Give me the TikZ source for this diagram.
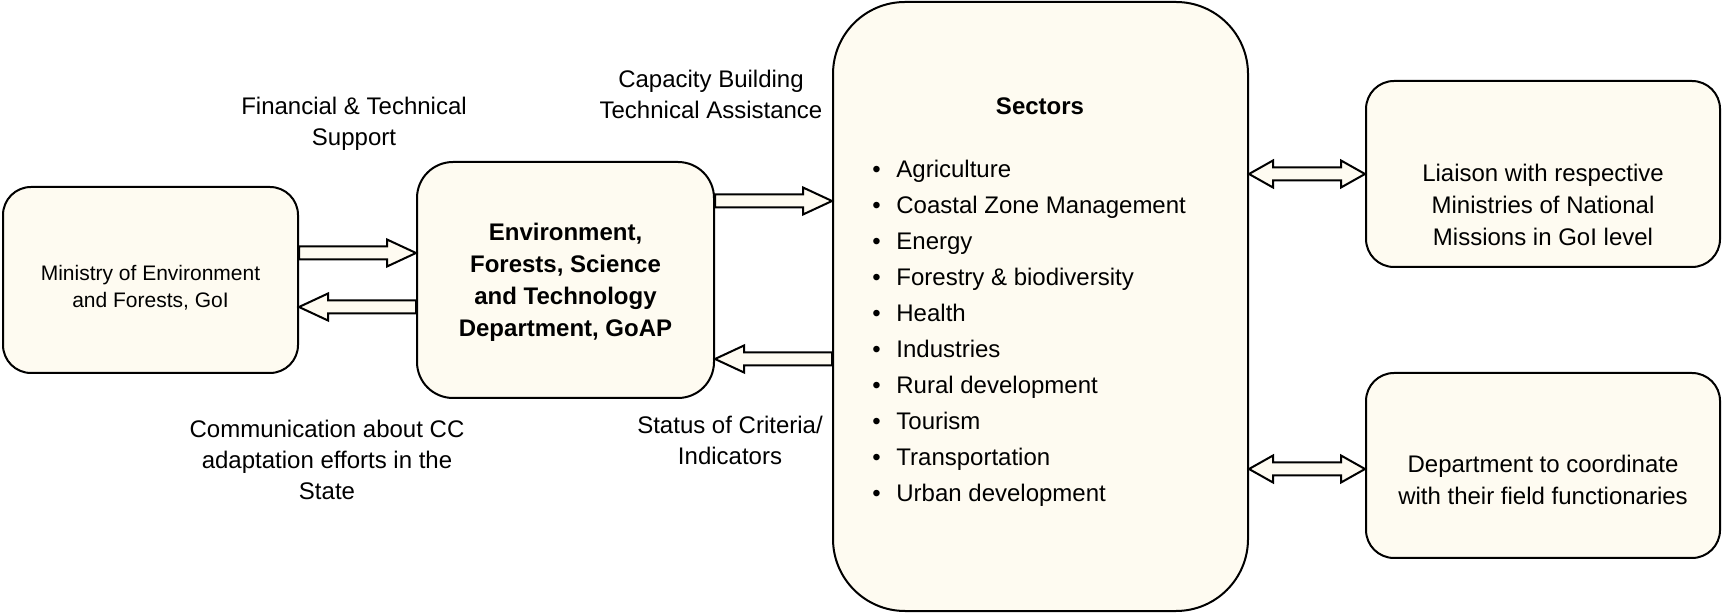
\documentclass[tikz,border=0pt]{standalone}
\usepackage{fontspec}
\setmainfont{Liberation Sans}
\usetikzlibrary{calc}
\definecolor{cream}{RGB}{254,251,241}

% block arrow, tail -> tip
\newcommand{\flowarrow}[2]{%
  \coordinate (fh) at ($(#2)!14.5pt!(#1)$);
  \draw[flow] ($(#1)+(0,3.25pt)$) -- ($(fh)+(0,3.25pt)$) -- ($(fh)+(0,6.75pt)$)
    -- (#2) -- ($(fh)+(0,-6.75pt)$) -- ($(fh)+(0,-3.25pt)$)
    -- ($(#1)+(0,-3.25pt)$) -- cycle;}
% block arrow with two heads
\newcommand{\dualarrow}[2]{%
  \coordinate (da) at ($(#1)!12pt!(#2)$);
  \coordinate (db) at ($(#2)!12pt!(#1)$);
  \draw[flow] (#1) -- ($(da)+(0,6.75pt)$) -- ($(da)+(0,3.25pt)$) -- ($(db)+(0,3.25pt)$)
    -- ($(db)+(0,6.75pt)$) -- (#2) -- ($(db)+(0,-6.75pt)$) -- ($(db)+(0,-3.25pt)$)
    -- ($(da)+(0,-3.25pt)$) -- ($(da)+(0,-6.75pt)$) -- cycle;}

\begin{document}
\begin{tikzpicture}[x=0.5pt, y=-0.5pt,
    box/.style={draw, line width=1pt, fill=cream, inner sep=0pt},
    flow/.style={draw, line width=1pt, fill=cream, line join=miter},
    note/.style={align=center, font=\fontsize{12}{15.5}\selectfont},
    inbox/.style={align=center, font=\fontsize{12}{16}\selectfont},
    item/.style={anchor=base west, inner sep=0pt, font=\fontsize{12}{14}\selectfont}]
\useasboundingbox (0,0) rectangle (1722,613);

\node[box, rounded corners=14pt, minimum width=147.5pt, minimum height=93pt] (mofe) at (150.5,280) {};
\node[box, rounded corners=18pt, minimum width=148.5pt, minimum height=118pt] (efst) at (565.5,280) {};
\node[box, rounded corners=36pt, minimum width=207.5pt, minimum height=304.5pt] (sectors) at (1040.5,306.5) {};
\node[box, rounded corners=14pt, minimum width=177pt, minimum height=93pt] (liaison) at (1543,174) {};
\node[box, rounded corners=14pt, minimum width=177pt, minimum height=92.5pt] (dept) at (1543,465.5) {};

\node[inbox, font=\fontsize{10.5}{13.5}\selectfont] (mofetxt) at (150.5,288) {Ministry of Environment\\and Forests, GoI};
\node[inbox, font=\bfseries\fontsize{12}{16}\selectfont] (efsttxt) at (565.5,282)
    {Environment,\\Forests, Science\\and Technology\\Department, GoAP};
\node[inbox, font=\bfseries\fontsize{12}{16}\selectfont] (sectitle) at (1040,106) {Sectors};
\foreach \i/\sector in {0/Agriculture, 1/Coastal Zone Management, 2/Energy,
    3/Forestry \& biodiversity, 4/Health, 5/Industries, 6/Rural development,
    7/Tourism, 8/Transportation, 9/Urban development}{
    \node[item] (sec\i) at (872,177.5+36*\i) {\textbullet\hspace{7.8pt}\sector};
}
\node[inbox] (liaisontxt) at (1543,205) {Liaison with respective\\Ministries of National\\Missions in GoI level};
\node[inbox] (depttxt) at (1543,480) {Department to coordinate\\with their field functionaries};

\flowarrow{mofe.east |- 0,253}{efst.west |- 0,253}
\flowarrow{efst.west |- 0,307}{mofe.east |- 0,307}
\flowarrow{efst.east |- 0,201}{sectors.west |- 0,201}
\flowarrow{sectors.west |- 0,359}{efst.east |- 0,359}
\dualarrow{sectors.east |- 0,174}{liaison.west |- 0,174}
\dualarrow{sectors.east |- 0,469}{dept.west |- 0,469}

\node[note] (support) at (354,124) {Financial \& Technical\\Support};
\node[note] (capacity) at (711,94) {Capacity Building\\Technical Assistance};
\node[note] (communication) at (327,460) {Communication about CC\\adaptation efforts in the\\State};
\node[note] (status) at (730,440) {Status of Criteria/\\Indicators};
\end{tikzpicture}
\end{document}
